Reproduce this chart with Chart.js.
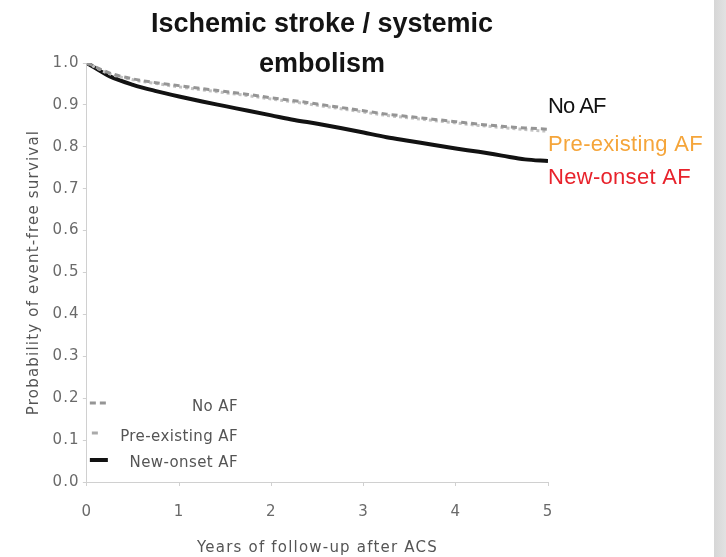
<!DOCTYPE html>
<html>
<head>
<meta charset="utf-8">
<script src="https://cdn.jsdelivr.net/npm/chart.js@4/dist/chart.umd.min.js"></script>
<style>
    body { margin:0; background:#fff; }
    #wrap { position:relative; width:726px; height:557px; }
    #strip {
        position:absolute; left:714px; top:0; width:12px; height:557px;
        background:linear-gradient(to right,#d6d6d6,#e2e2e2);
    }
    canvas { position:absolute; left:0; top:0; }
</style>
</head>
<body>
<div id="wrap">
    <canvas id="chartStroke" width="726" height="557"></canvas>
    <div id="strip"></div>
</div>
<script>
// years of follow-up, every quarter year
const years = [0,0.25,0.5,0.75,1,1.25,1.5,1.75,2,2.25,2.5,2.75,3,3.25,3.5,3.75,4,4.25,4.5,4.75,5];

const noAF = [1.000,0.976,0.962,0.953,0.946,0.939,0.932,0.925,0.917,0.910,0.902,0.894,0.886,0.878,0.872,0.866,0.860,0.854,0.849,0.845,0.842];
const preAF = [1.000,0.974,0.960,0.951,0.943,0.936,0.929,0.922,0.914,0.907,0.899,0.891,0.883,0.875,0.869,0.863,0.857,0.851,0.846,0.841,0.837];
const newAF = [1.000,0.968,0.948,0.933,0.920,0.908,0.897,0.886,0.875,0.864,0.855,0.845,0.834,0.823,0.814,0.805,0.796,0.788,0.779,0.770,0.766];

const xTicks = [0,1,2,3,4,5];
const yTicks = [0,0.1,0.2,0.3,0.4,0.5,0.6,0.7,0.8,0.9,1.0];

const titleLines = ["Ischemic stroke / systemic","embolism"];
const sideColors = ["#111111","#f5a53a","#e8222b"];

const toPoints = vals => vals.map((v,i)=>({x:years[i],y:v}));

const grayFont = '"DejaVu Sans", sans-serif';

// the axis text in the figure is set loosely spaced
const wideAxisText = {
    id:"wideAxisText",
    beforeDraw(chart){
        chart.ctx.letterSpacing = "1.2px";
    },
    beforeDatasetsDraw(chart){
        chart.ctx.letterSpacing = "0px";
    }
};

// title, coloured labels on the right and the small key inside the plot
const annotations = {
    id:"annotations",
    afterDraw(chart){
        const ctx = chart.ctx;
        const area = chart.chartArea;
        const sets = chart.data.datasets;

        ctx.save();
        ctx.letterSpacing = "0px";

        ctx.fillStyle = "#141414";
        ctx.font = 'bold 27px "Liberation Sans", Arial, sans-serif';
        ctx.textAlign = "center";
        ctx.textBaseline = "alphabetic";
        ctx.fillText(titleLines[0], 322, 32);
        ctx.fillText(titleLines[1], 322, 72);

        ctx.font = '22px "Liberation Sans", Arial, sans-serif';
        ctx.textAlign = "left";
        const sideY = [113,151,184];
        sets.forEach((ds,i)=>{
            ctx.fillStyle = sideColors[i];
            ctx.letterSpacing = i === 0 ? "-1px" : "0.3px";
            ctx.fillText(ds.label, area.right, sideY[i]);
        });

        ctx.letterSpacing = "0.4px";
        ctx.font = '15px ' + grayFont;
        ctx.textAlign = "right";
        ctx.textBaseline = "middle";
        const keyY = [407,437,463];
        sets.forEach((ds,i)=>{
            ctx.fillStyle = "#555";
            ctx.fillText(ds.label, 238, keyY[i]);

            ctx.beginPath();
            ctx.strokeStyle = ds.borderColor;
            ctx.lineWidth = ds.borderWidth;
            if (i === 1) {
                ctx.setLineDash([]);
                ctx.strokeStyle = "#aaa";
                ctx.moveTo(area.left + 5, keyY[i] - 4);
                ctx.lineTo(area.left + 11, keyY[i] - 4);
            } else {
                ctx.setLineDash(ds.borderDash || []);
                ctx.moveTo(area.left + 3, keyY[i] - (i===0 ? 4 : 3));
                ctx.lineTo(area.left + 21, keyY[i] - (i===0 ? 4 : 3));
            }
            ctx.stroke();
        });

        ctx.restore();
    }
};

new Chart(document.getElementById("chartStroke"),{

    type:"line",

    data:{
        datasets:[
            {
                label:"No AF",
                data:toPoints(noAF),
                borderColor:"#959595",
                borderWidth:3,
                borderDash:[6,4],
                pointRadius:0,
                cubicInterpolationMode:"monotone"
            },
            {
                label:"Pre-existing AF",
                data:toPoints(preAF),
                borderColor:"#c2c2c2",
                borderWidth:3,
                borderDash:[3,3],
                pointRadius:0,
                cubicInterpolationMode:"monotone"
            },
            {
                label:"New-onset AF",
                data:toPoints(newAF),
                borderColor:"#121212",
                borderWidth:4,
                pointRadius:0,
                cubicInterpolationMode:"monotone"
            }
        ]
    },

    options:{

        responsive:false,
        animation:false,
        devicePixelRatio:1,

        layout:{
            padding:{left:18, right:178, top:63, bottom:0}
        },

        scales:{
            x:{
                type:"linear",
                min:0,
                max:5,
                afterBuildTicks(axis){
                    axis.ticks = xTicks.map(v=>({value:v}));
                },
                ticks:{
                    color:"#6a6a6a",
                    padding:17,
                    font:{family:grayFont, size:15}
                },
                grid:{
                    drawOnChartArea:false,
                    tickLength:4,
                    color:"#d0d0d0"
                },
                border:{color:"#d0d0d0"},
                title:{
                    display:true,
                    text:"Years of follow-up after ACS",
                    color:"#555",
                    font:{family:grayFont, size:15},
                    padding:{top:1, bottom:0}
                }
            },
            y:{
                min:0,
                max:1,
                afterBuildTicks(axis){
                    axis.ticks = yTicks.map(v=>({value:v}));
                },
                ticks:{
                    color:"#6a6a6a",
                    padding:3,
                    font:{family:grayFont, size:15},
                    callback(v){
                        return v.toFixed(1);
                    }
                },
                grid:{
                    drawOnChartArea:false,
                    tickLength:4,
                    color:"#d0d0d0"
                },
                border:{color:"#d0d0d0"},
                title:{
                    display:true,
                    text:"Probability of event-free survival",
                    color:"#555",
                    font:{family:grayFont, size:15},
                    padding:{top:7, bottom:10}
                }
            }
        },

        plugins:{
            legend:{display:false},
            tooltip:{enabled:false}
        }
    },

    plugins:[wideAxisText, annotations]
});
</script>
</body>
</html>
